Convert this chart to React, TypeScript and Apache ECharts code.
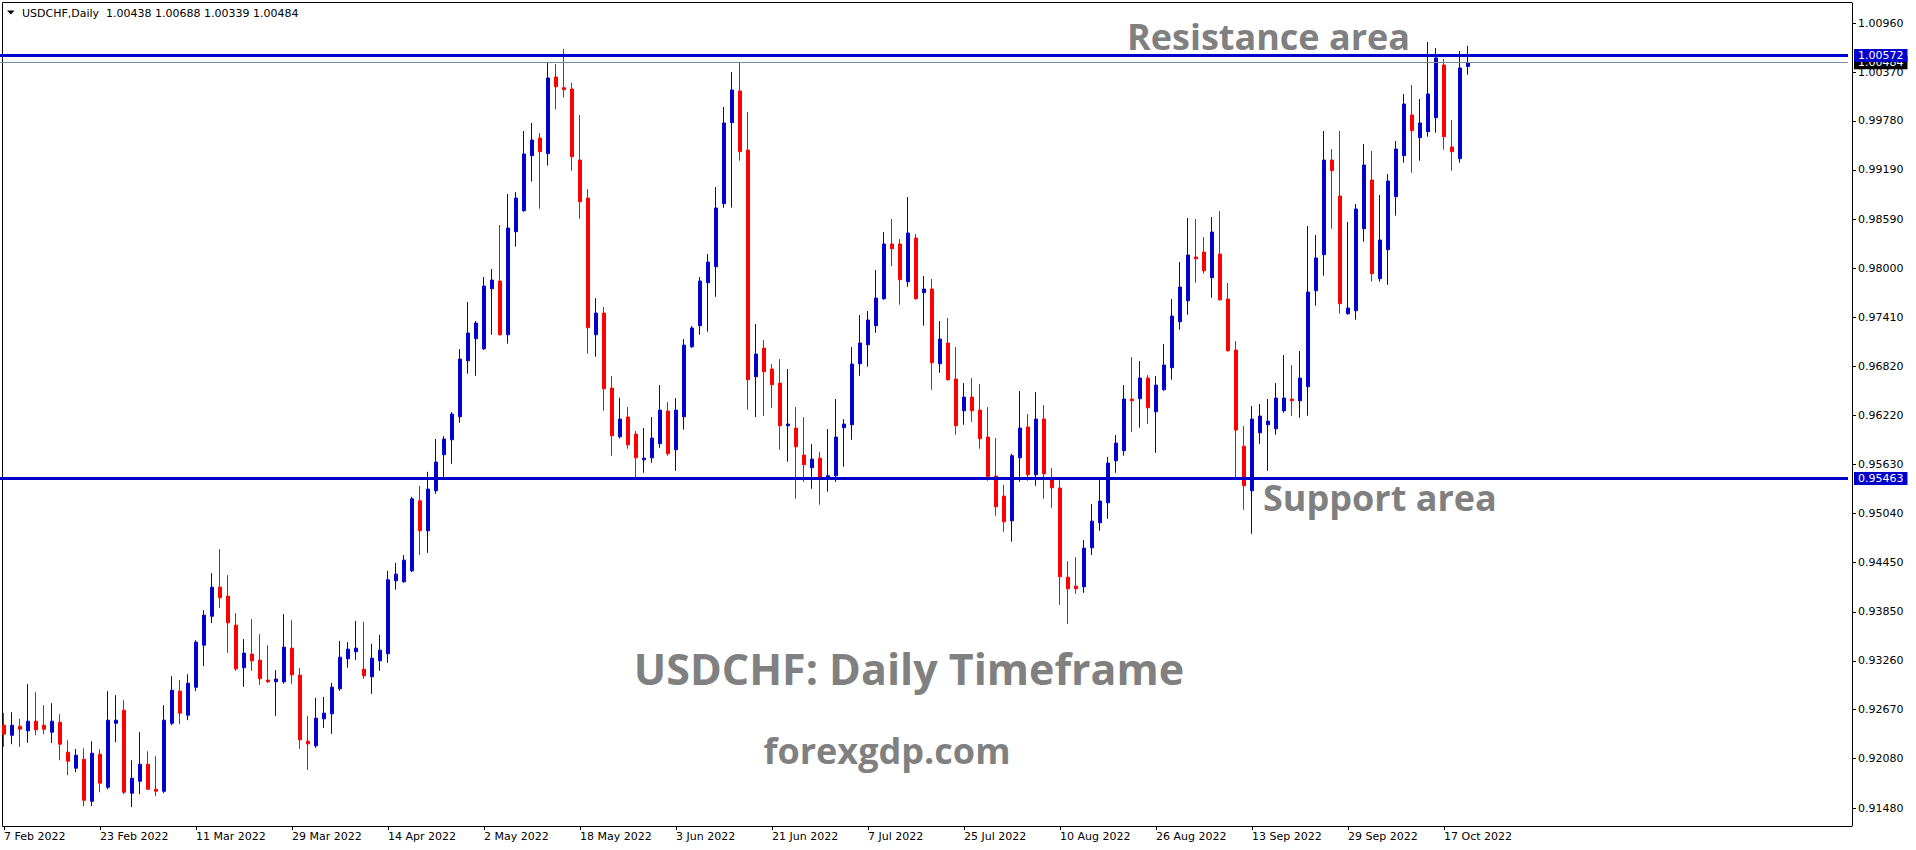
import React, { useEffect, useRef } from 'react';
import * as echarts from 'echarts';

// daily USDCHF bars, 7 Feb 2022 .. 20 Oct 2022 (one per weekday)
const open = [
  0.92482, 0.92361, 0.9247, 0.92414, 0.92531, 0.92482, 0.92398, 0.92518, 0.92156, 0.91963,
  0.92071, 0.91564, 0.92132, 0.91733, 0.92506, 0.92664, 0.91661, 0.91806, 0.92011, 0.91709,
  0.91685, 0.92506, 0.92893, 0.92603, 0.92941, 0.93449, 0.93799, 0.9415, 0.94041, 0.93691,
  0.93176, 0.93341, 0.93268, 0.93027, 0.93007, 0.93007, 0.93413, 0.93087, 0.9229, 0.92233,
  0.92559, 0.9262, 0.92922, 0.93284, 0.93369, 0.93159, 0.93067, 0.9326, 0.93345, 0.94227,
  0.94215, 0.94347, 0.95193, 0.9483, 0.95314, 0.95749, 0.9593, 0.96208, 0.96884, 0.9715,
  0.97029, 0.97754, 0.97847, 0.97198, 0.98443, 0.98696, 0.99361, 0.99574, 0.99385, 1.00311,
  1.00182, 1.00166, 0.99308, 0.98849, 0.97198, 0.9746, 0.96554, 0.95966, 0.96204, 0.95998,
  0.95688, 0.95712, 0.95882, 0.96276, 0.95809, 0.96208, 0.97053, 0.97307, 0.97827, 0.9802,
  0.98781, 0.9976, 1.00142, 0.99429, 0.96691, 0.97037, 0.96784, 0.96614, 0.96099, 0.96071,
  0.95745, 0.95592, 0.95708, 0.95475, 0.95495, 0.96075, 0.96111, 0.96848, 0.97077, 0.97307,
  0.97633, 0.98294, 0.98294, 0.97839, 0.98366, 0.97706, 0.9775, 0.96848, 0.97098, 0.96663,
  0.9628, 0.96445, 0.96288, 0.95962, 0.95491, 0.95249, 0.94951, 0.95712, 0.96083, 0.95507,
  0.9618, 0.95459, 0.95346, 0.9427, 0.94162, 0.94154, 0.94625, 0.94927, 0.95169, 0.95676,
  0.95797, 0.96421, 0.96425, 0.96675, 0.96268, 0.96534, 0.968, 0.97355, 0.97609, 0.98137,
  0.98197, 0.97887, 0.98173, 0.97629, 0.97013, 0.95853, 0.95314, 0.96014, 0.96111, 0.96063,
  0.9628, 0.96421, 0.96401, 0.9657, 0.9773, 0.98165, 0.99308, 0.98874, 0.97452, 0.97488,
  0.98479, 0.99067, 0.97875, 0.98225, 0.98866, 0.99361, 0.99852, 0.99578, 0.99651, 0.9982,
  1.00456, 0.99466, 0.99325, 1.00438,
];

const high = [
  0.92631, 0.92639, 0.92559, 0.92978, 0.92881, 0.92724, 0.92748, 0.92615, 0.92301, 0.92196,
  0.92204, 0.92289, 0.92192, 0.92893, 0.92845, 0.92784, 0.92059, 0.92398, 0.92168, 0.92108,
  0.92724, 0.93074, 0.93026, 0.93098, 0.93509, 0.93872, 0.94319, 0.94609, 0.94295, 0.93836,
  0.93522, 0.93764, 0.93582, 0.93449, 0.93147, 0.93824, 0.93751, 0.93172, 0.92596, 0.92813,
  0.92825, 0.92994, 0.93502, 0.93486, 0.93743, 0.93731, 0.93466, 0.93574, 0.94347, 0.94444,
  0.94537, 0.95241, 0.95372, 0.95543, 0.95938, 0.95974, 0.96264, 0.97025, 0.97593, 0.97363,
  0.97895, 0.97992, 0.98523, 0.98898, 0.98922, 0.99659, 0.99756, 0.99635, 1.00492, 1.00468,
  1.0065, 1.00239, 0.99852, 0.98958, 0.97641, 0.97533, 0.96699, 0.96437, 0.96325, 0.96035,
  0.96071, 0.96204, 0.9659, 0.96385, 0.96433, 0.97146, 0.97303, 0.97895, 0.98173, 0.98982,
  0.99949, 1.00372, 1.00492, 0.99888, 0.97327, 0.97134, 0.96844, 0.96904, 0.96784, 0.96325,
  0.96204, 0.95877, 0.95785, 0.96059, 0.96421, 0.96179, 0.97049, 0.97436, 0.97484, 0.9798,
  0.98439, 0.98596, 0.98354, 0.98861, 0.98414, 0.97907, 0.97871, 0.97363, 0.974, 0.97049,
  0.96614, 0.96675, 0.96602, 0.96324, 0.9595, 0.95386, 0.95761, 0.96518, 0.9624, 0.96506,
  0.96349, 0.95588, 0.9545, 0.94464, 0.94512, 0.94718, 0.95153, 0.95459, 0.95724, 0.95986,
  0.9659, 0.96929, 0.9688, 0.96711, 0.96699, 0.97086, 0.97629, 0.98076, 0.98608, 0.98596,
  0.98378, 0.9862, 0.98692, 0.97823, 0.97122, 0.96095, 0.96337, 0.96361, 0.96421, 0.96614,
  0.96953, 0.96832, 0.97001, 0.98511, 0.98402, 0.99659, 0.99441, 0.99659, 0.9856, 0.98777,
  0.99502, 0.99417, 0.98886, 0.99139, 0.99538, 1.00106, 1.00215, 1.00045, 1.00734, 1.00662,
  1.00529, 0.99792, 1.00625, 1.00688,
];

const low = [
  0.9222, 0.92253, 0.9222, 0.92269, 0.92361, 0.92374, 0.92265, 0.92059, 0.91878, 0.91914,
  0.91504, 0.91504, 0.91673, 0.91709, 0.92277, 0.91649, 0.91492, 0.91649, 0.917, 0.91625,
  0.91661, 0.92482, 0.92494, 0.92543, 0.92893, 0.93195, 0.93715, 0.939, 0.93357, 0.93139,
  0.92946, 0.93139, 0.9297, 0.92994, 0.92596, 0.92982, 0.92982, 0.92197, 0.91943, 0.92209,
  0.92451, 0.92378, 0.92898, 0.93176, 0.93272, 0.93043, 0.92861, 0.93139, 0.93236, 0.94118,
  0.94203, 0.94331, 0.94538, 0.94564, 0.95277, 0.95471, 0.9564, 0.96135, 0.96727, 0.96703,
  0.97014, 0.97198, 0.9719, 0.9709, 0.98262, 0.98684, 0.99047, 0.98721, 0.9924, 0.99917,
  1.00062, 0.9918, 0.986, 0.96969, 0.96933, 0.9628, 0.95737, 0.95946, 0.95821, 0.95471,
  0.95531, 0.95652, 0.95833, 0.95737, 0.95555, 0.96051, 0.97041, 0.97198, 0.97235, 0.97657,
  0.98733, 0.98733, 0.993, 0.96292, 0.96204, 0.96216, 0.96316, 0.95809, 0.95664, 0.95217,
  0.95422, 0.95338, 0.95145, 0.95302, 0.95422, 0.95604, 0.9593, 0.96703, 0.96812, 0.97222,
  0.97621, 0.98028, 0.97561, 0.97778, 0.97621, 0.97307, 0.96534, 0.96739, 0.96643, 0.9599,
  0.96111, 0.96147, 0.95821, 0.95434, 0.95012, 0.94818, 0.94698, 0.95422, 0.95434, 0.95374,
  0.95217, 0.95108, 0.93936, 0.93707, 0.94069, 0.94081, 0.94537, 0.9483, 0.94975, 0.95531,
  0.95737, 0.96026, 0.96075, 0.96123, 0.95773, 0.96522, 0.96655, 0.97259, 0.9744, 0.97827,
  0.97935, 0.97645, 0.97609, 0.96995, 0.9545, 0.95084, 0.94794, 0.95881, 0.95555, 0.9599,
  0.96256, 0.9622, 0.96196, 0.9622, 0.97549, 0.97911, 0.98479, 0.97452, 0.9744, 0.9738,
  0.98322, 0.97839, 0.97839, 0.97802, 0.98636, 0.99276, 0.99155, 0.993, 0.9959, 0.99639,
  0.99433, 0.9918, 0.99276, 1.00339,
];

const close = [
  0.92374, 0.92482, 0.92434, 0.92531, 0.92426, 0.92434, 0.92531, 0.92253, 0.92047, 0.9212,
  0.91576, 0.92144, 0.91782, 0.92543, 0.92543, 0.91673, 0.91842, 0.92011, 0.91709, 0.91685,
  0.92543, 0.92905, 0.92627, 0.9299, 0.93485, 0.93811, 0.94149, 0.94021, 0.93719, 0.93163,
  0.93353, 0.9326, 0.93043, 0.93007, 0.93039, 0.93425, 0.93091, 0.92306, 0.92257, 0.92567,
  0.92628, 0.92942, 0.93304, 0.93401, 0.93413, 0.93079, 0.93292, 0.93389, 0.94239, 0.94307,
  0.94476, 0.95217, 0.94831, 0.95334, 0.9566, 0.95938, 0.9624, 0.96904, 0.97219, 0.97339,
  0.97786, 0.97859, 0.97198, 0.98487, 0.98849, 0.99381, 0.9955, 0.99409, 1.00299, 1.00194,
  1.00158, 0.99349, 0.98805, 0.97283, 0.9746, 0.96546, 0.95978, 0.9618, 0.95869, 0.95712,
  0.95708, 0.9595, 0.96288, 0.95761, 0.96288, 0.97073, 0.97279, 0.97847, 0.98076, 0.98729,
  0.99756, 1.00154, 0.99409, 0.96655, 0.96965, 0.96751, 0.96594, 0.96099, 0.96119, 0.95845,
  0.95628, 0.95696, 0.95471, 0.95495, 0.95962, 0.96119, 0.96844, 0.97098, 0.97376, 0.97641,
  0.98294, 0.98237, 0.97863, 0.98427, 0.97633, 0.9775, 0.9686, 0.97146, 0.96655, 0.96099,
  0.96445, 0.9628, 0.95942, 0.95483, 0.9512, 0.94939, 0.95737, 0.96071, 0.95507, 0.9618,
  0.95519, 0.9535, 0.94275, 0.9413, 0.9413, 0.94621, 0.94947, 0.95189, 0.95648, 0.9589,
  0.96421, 0.96401, 0.96675, 0.96316, 0.9659, 0.96832, 0.97424, 0.97774, 0.98161, 0.98116,
  0.97971, 0.98439, 0.97621, 0.97005, 0.96047, 0.95374, 0.9618, 0.96216, 0.96155, 0.96433,
  0.96433, 0.96401, 0.96675, 0.97714, 0.98125, 0.99308, 0.9918, 0.97573, 0.9752, 0.98717,
  0.99248, 0.97935, 0.98342, 0.99055, 0.99441, 0.99985, 0.99663, 0.99756, 1.00106, 1.00541,
  0.9959, 0.99409, 1.0042, 1.00484,
];

// one date label every 12 bars
const dateLabels = [
  '7 Feb 2022', '23 Feb 2022', '11 Mar 2022', '29 Mar 2022', '14 Apr 2022', '2 May 2022',
  '18 May 2022', '3 Jun 2022', '21 Jun 2022', '7 Jul 2022', '25 Jul 2022', '10 Aug 2022',
  '26 Aug 2022', '13 Sep 2022', '29 Sep 2022', '17 Oct 2022',
];

const priceTicks = [
  0.9148, 0.9208, 0.9267, 0.9326, 0.9385, 0.9445, 0.9504, 0.9563, 0.9622,
  0.9682, 0.9741, 0.98, 0.9859, 0.9919, 0.9978, 1.0037, 1.0096,
];

const resistanceLevel = 1.00572;
const supportLevel = 0.95463;
const bidLevel = 1.00484;

const SLOTS = 231; // bars + empty chart shift on the right
const LABEL_STEP = 12;

const BLUE = '#0000cd';
const RED = '#ff0000';
const GRAY_TEXT = '#808080';

export default function App() {
  const chartRef = useRef<HTMLDivElement>(null);

  useEffect(() => {
    if (!chartRef.current) return;
    const chart = echarts.init(chartRef.current, undefined, { renderer: 'svg' });

    const slots = Array.from({ length: SLOTS }, (_, i) => String(i));
    const candles = open.map((o, i) => [o, close[i], low[i], high[i]]);
    const isLabelSlot = (i: number) =>
      i % LABEL_STEP === 0 && i / LABEL_STEP < dateLabels.length;

    const boxLabel = (bg: string) => ({
      show: true,
      position: 'end',
      distance: 6,
      formatter: (p: any) => Number(p.value).toFixed(5),
      color: '#fff',
      backgroundColor: bg,
      padding: [1, 4, 0, 4],
      fontSize: 11,
      lineHeight: 12,
      fontFamily: 'DejaVu Sans',
    });

    const annotation = (text: string, x: number, y: number, size: number, align = 'left') => ({
      type: 'text',
      x,
      y,
      silent: true,
      style: {
        text,
        fill: GRAY_TEXT,
        fontSize: size,
        fontWeight: 'bold',
        fontFamily: '"Open Sans", sans-serif',
        align,
        verticalAlign: 'middle',
      },
    });

    const option = {
      animation: false,
      backgroundColor: '#ffffff',
      textStyle: { fontFamily: 'DejaVu Sans' },
      grid: { left: 0, top: 3, width: 1848, height: 823 },
      xAxis: {
        type: 'category',
        data: slots,
        boundaryGap: true,
        axisLine: { show: false },
        splitLine: { show: false },
        axisTick: {
          show: true,
          alignWithLabel: true,
          length: 4,
          interval: (i: number) => isLabelSlot(i),
          lineStyle: { color: '#000' },
        },
        axisLabel: {
          interval: (i: number) => isLabelSlot(i),
          formatter: (_v: string, i: number) => (isLabelSlot(i) ? dateLabels[i / LABEL_STEP] : ''),
          align: 'left',
          margin: 5,
          color: '#000',
          fontSize: 11,
          fontFamily: 'DejaVu Sans',
        },
      },
      yAxis: {
        type: 'value',
        position: 'right',
        offset: 4,
        min: 0.91265,
        max: 1.01205,
        scale: true,
        splitLine: { show: false },
        axisLine: { show: true, lineStyle: { color: '#000', width: 1 } },
        axisTick: {
          show: true,
          length: 4,
          customValues: priceTicks,
          lineStyle: { color: '#000' },
        },
        axisLabel: {
          customValues: priceTicks,
          formatter: (v: number) => v.toFixed(5),
          margin: 6,
          color: '#000',
          fontSize: 11,
          fontFamily: 'DejaVu Sans',
        },
      },
      series: [
        {
          type: 'candlestick',
          data: candles,
          barWidth: 4,
          itemStyle: {
            color: BLUE,
            color0: RED,
            borderColor: BLUE,
            borderColor0: RED,
            borderWidth: 1,
          },
          markLine: {
            silent: true,
            precision: 5,
            symbol: ['none', 'none'],
            data: [
              { yAxis: bidLevel, lineStyle: { color: '#778899', width: 1, type: 'solid' }, label: boxLabel('#000000') },
              { yAxis: resistanceLevel, lineStyle: { color: BLUE, width: 3, type: 'solid' }, label: boxLabel(BLUE) },
              { yAxis: supportLevel, lineStyle: { color: BLUE, width: 3, type: 'solid' }, label: boxLabel(BLUE) },
            ],
          },
        },
      ],
      graphic: [
        {
          type: 'polyline',
          silent: true,
          shape: { points: [[1852, 2.5], [2.5, 2.5], [2.5, 826.5], [1852, 826.5]] },
          style: { stroke: '#000', lineWidth: 1, fill: 'none' },
        },
        {
          type: 'polygon',
          silent: true,
          shape: { points: [[7, 10.5], [14.5, 10.5], [10.75, 14.5]] },
          style: { fill: '#000' },
        },
        {
          type: 'text',
          x: 22,
          y: 13,
          silent: true,
          style: {
            text: 'USDCHF,Daily  1.00438 1.00688 1.00339 1.00484',
            fill: '#000',
            fontSize: 11,
            fontFamily: 'DejaVu Sans',
            verticalAlign: 'middle',
          },
        },
        annotation('Resistance area', 1127, 36, 36),
        annotation('Support area', 1263, 497, 36),
        annotation('USDCHF: Daily Timeframe', 909, 668, 43, 'center'),
        annotation('forexgdp.com', 887, 750, 36, 'center'),
      ],
    };

    chart.setOption(option as any);

    return () => {
      chart.dispose();
    };
  }, []);

  return (
    <div
      ref={chartRef}
      style={{ position: 'absolute', left: 0, top: 0, width: 1916, height: 850, background: '#fff' }}
    />
  );
}
